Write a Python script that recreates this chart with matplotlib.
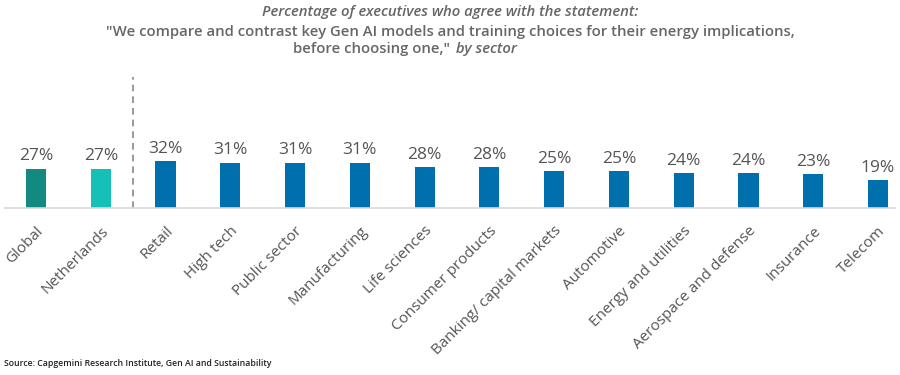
import matplotlib.pyplot as plt

plt.rcParams['font.family'] = ['Open Sans', 'DejaVu Sans']

sectors = ['Global', 'Netherlands', 'Retail', 'High tech', 'Public sector',
           'Manufacturing', 'Life sciences', 'Consumer products',
           'Banking/ capital markets', 'Automotive', 'Energy and utilities',
           'Aerospace and defense', 'Insurance', 'Telecom']
values = [27, 27, 32, 31, 31, 31, 28, 28, 25, 25, 24, 24, 23, 19]
colors = ['#138a80', '#14c0b8'] + ['#0070ad'] * 12

fig = plt.figure(figsize=(9, 3.75), dpi=100)
ax = fig.add_axes([0.005, 0.445, 0.99, 0.36])

x = range(len(sectors))
ax.bar(x, values, width=0.31, color=colors)
for i, v in zip(x, values):
    ax.text(i, v + 3, f'{v}%', ha='center', va='bottom', fontsize=12.5, color='#555555')

ax.set_xlim(-0.486, 13.27)
ax.set_ylim(0, 92)
ax.axvline(1.5, ymin=0, ymax=0.97, color='#888888', linestyle=(0, (4, 3)), linewidth=1.2)

ax.set_xticks(list(x))
ax.set_xticklabels(sectors, rotation=45, ha='right', rotation_mode='anchor',
                   fontsize=11, color='#555555')
ax.tick_params(axis='x', length=0, pad=11)
ax.set_yticks([])
for s in ['top', 'right', 'left']:
    ax.spines[s].set_visible(False)
ax.spines['bottom'].set_color('#d9d9d9')
ax.spines['bottom'].set_linewidth(1.2)

tc = '#666666'
fig.text(0.5, 0.968, 'Percentage of executives who agree with the statement:',
         ha='center', va='center', fontsize=10.7, style='italic', fontweight='semibold', color=tc)
fig.text(0.5, 0.915, '"We compare and contrast key Gen AI models and training choices for their energy implications,',
         ha='center', va='center', fontsize=10.7, fontweight='semibold', color=tc)
fig.text(0.5, 0.868, 'before choosing one,"', ha='right', va='center', fontsize=10.7,
         fontweight='semibold', color=tc)
fig.text(0.502, 0.868, ' by sector', ha='left', va='center', fontsize=10.7,
         fontweight='semibold', style='italic', color=tc)

fig.text(0.005, 0.018, 'Source: Capgemini Research Institute, Gen AI and Sustainability',
         ha='left', va='bottom', fontsize=6.3, fontweight='semibold', color='#222222')

fig.savefig('out.png', dpi=100)
